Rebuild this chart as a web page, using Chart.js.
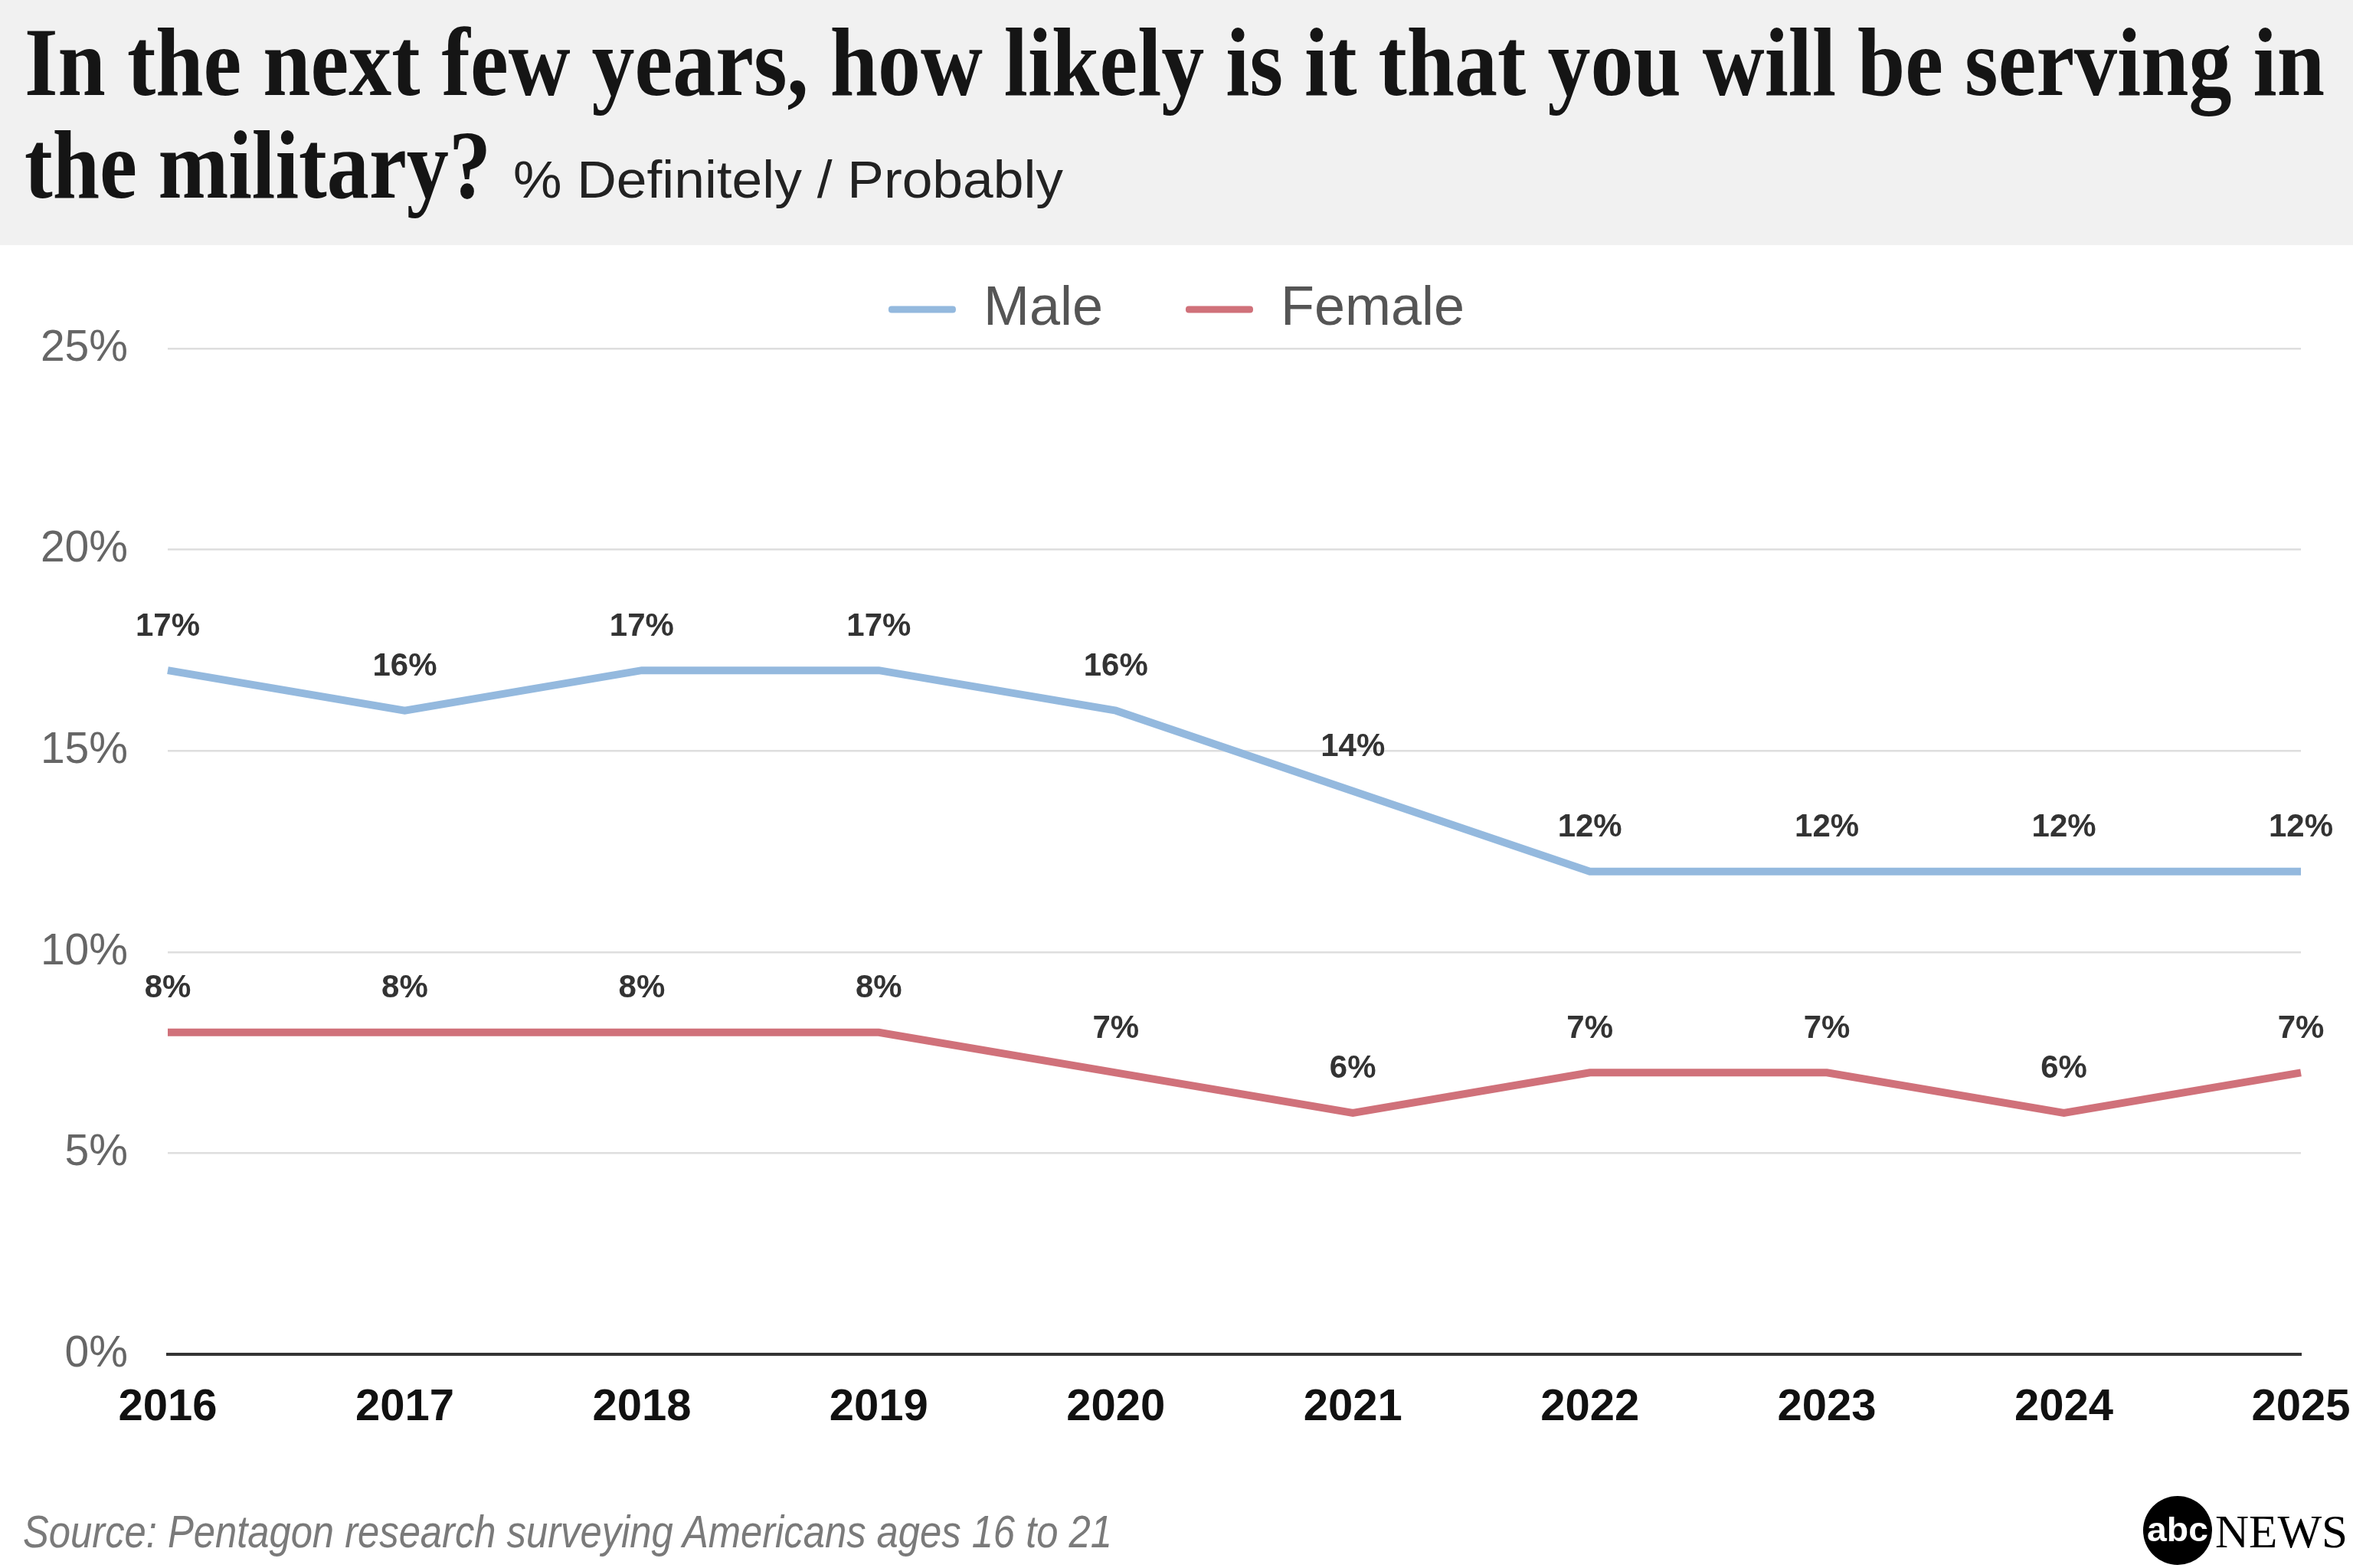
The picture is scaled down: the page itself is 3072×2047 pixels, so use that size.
<!DOCTYPE html>
<html><head><meta charset="utf-8">
<script src="https://cdn.jsdelivr.net/npm/chart.js@4.4.1/dist/chart.umd.min.js"></script>
<style>
html,body{margin:0;padding:0;width:3072px;height:2047px;overflow:hidden;background:#fff;}
#c{position:absolute;left:0;top:0;}
#overlay{position:absolute;left:0;top:0;pointer-events:none;}
</style></head>
<body>
<canvas id="c" width="3072" height="2047"></canvas>
<svg id="overlay" width="3072" height="2047" xmlns="http://www.w3.org/2000/svg">
  <rect x="0" y="0" width="3072" height="320" fill="#f1f1f1"/>
  <text x="32" y="124" font-family="Liberation Serif, serif" font-weight="bold" font-size="128" fill="#151515" textLength="3003" lengthAdjust="spacingAndGlyphs">In the next few years, how likely is it that you will be serving in</text>
  <text x="32" y="258" font-family="Liberation Serif, serif" font-weight="bold" font-size="128" fill="#151515" textLength="609" lengthAdjust="spacingAndGlyphs">the military?</text>
  <text x="670" y="258" font-family="Liberation Sans, Arial, sans-serif" font-size="68" fill="#222" textLength="718" lengthAdjust="spacingAndGlyphs">% Definitely / Probably</text>
  <text x="30" y="2020" font-family="Liberation Sans, Arial, sans-serif" font-style="italic" font-size="60" fill="#7a7a7a" textLength="1422" lengthAdjust="spacingAndGlyphs">Source: Pentagon research surveying Americans ages 16 to 21</text>
  <circle cx="2843" cy="1998" r="45" fill="#000"/>
  <text x="2843" y="2012" text-anchor="middle" font-family="Liberation Sans, Arial, sans-serif" font-weight="bold" font-size="44" fill="#fff" textLength="80" lengthAdjust="spacingAndGlyphs">abc</text>
  <text x="2892" y="2020" font-family="Liberation Serif, serif" font-size="62" fill="#000" textLength="173" lengthAdjust="spacingAndGlyphs">NEWS</text>
</svg>
<script>
const years = ['2016','2017','2018','2019','2020','2021','2022','2023','2024','2025'];
const maleValues = [17,16,17,17,16,14,12,12,12,12];
const femaleValues = [8,8,8,8,7,6,7,7,6,7];
const seriesNames = ['Male','Female'];
const seriesColors = ['#94b9de','#d0717a'];

Chart.defaults.font.family = 'Liberation Sans, Arial, sans-serif';

const legendHeight = {
  id:'legendHeight',
  beforeInit(chart){
    const lg = chart.legend;
    if(!lg) return;
    const fit = lg.fit;
    lg.fit = function(){ fit.call(this); this.height = 195; };
  }
};

const dataLabels = {
  id:'dataLabels',
  afterDatasetsDraw(chart){
    const ctx = chart.ctx;
    ctx.save();
    ctx.font = 'bold 42px "Liberation Sans", Arial, sans-serif';
    ctx.fillStyle = '#333';
    ctx.textAlign = 'center';
    ctx.textBaseline = 'middle';
    chart.data.datasets.forEach((ds,i)=>{
      const meta = chart.getDatasetMeta(i);
      meta.data.forEach((pt,j)=>{
        ctx.fillText(ds.data[j] + '%', pt.x, pt.y - 57);
      });
    });
    ctx.restore();
  }
};

new Chart(document.getElementById('c'), {
  type:'line',
  data:{
    labels: years,
    datasets:[
      {label:seriesNames[0], data:maleValues, borderColor:seriesColors[0], backgroundColor:seriesColors[0], borderWidth:10, pointRadius:0, tension:0, fill:false},
      {label:seriesNames[1], data:femaleValues, borderColor:seriesColors[1], backgroundColor:seriesColors[1], borderWidth:10, pointRadius:0, tension:0, fill:false}
    ]
  },
  options:{
    responsive:false,
    devicePixelRatio:1,
    animation:false,
    layout:{padding:{top:260,left:0,right:0,bottom:0}},
    plugins:{
      legend:{
        display:true, position:'top', align:'center',
        labels:{
          boxWidth:88, boxHeight:9, padding:108,
          font:{size:72}, color:'#555',
          useBorderRadius:true, borderRadius:4,
          generateLabels(chart){
            return chart.data.datasets.map((ds,i)=>({
              text:ds.label, fillStyle:ds.borderColor, strokeStyle:ds.borderColor,
              lineWidth:0, hidden:false, datasetIndex:i, fontColor:'#555', borderRadius:4
            }));
          }
        }
      },
      tooltip:{enabled:false}
    },
    scales:{
      x:{
        offset:false,
        grid:{display:false, drawTicks:false},
        border:{display:true, color:'#333', width:4},
        ticks:{padding:35, font:{size:58, weight:'bold'}, color:'#111', maxRotation:0, autoSkip:false},
        afterFit(s){ s.height = 279; s.paddingRight = 68; s.paddingLeft = 0; }
      },
      y:{
        min:0, max:25,
        ticks:{stepSize:5, padding:52, font:{size:57}, color:'#666', callback:v=>v+'%'},
        grid:{drawTicks:false, lineWidth:2.5, color:ctx=> (ctx.tick && ctx.tick.value===0) ? 'rgba(0,0,0,0)' : '#dedede'},
        border:{display:false},
        afterFit(s){ s.width = 219; }
      }
    }
  },
  plugins:[legendHeight, dataLabels]
});
</script>
</body></html>
